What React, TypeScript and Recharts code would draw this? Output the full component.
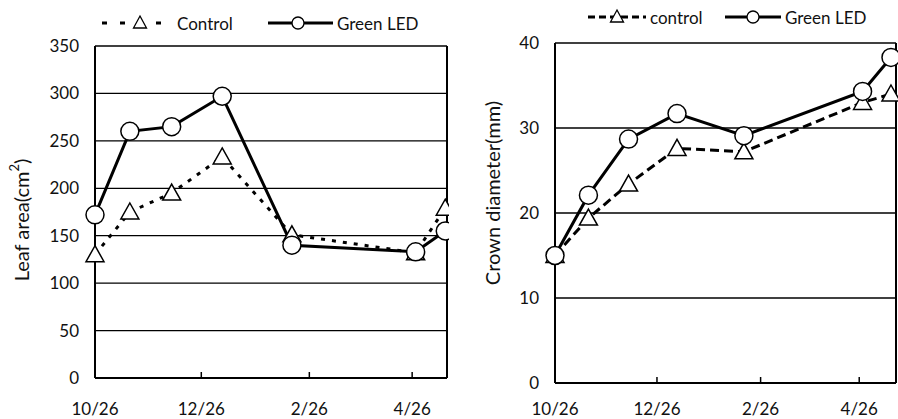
import React from "react";
import { LineChart, Line, XAxis, YAxis, CartesianGrid, ReferenceLine } from "recharts";

// sampling dates, as days after 10/26
const sampleDays = [0, 20, 44, 73, 113, 184, 201];
const dateTicks = [0, 61, 123, 182];
const dateLabels = ["10/26", "12/26", "2/26", "4/26"];

// leaf area (cm2)
const leafLed = [172, 260, 265, 297, 140, 133, 155];
const leafControl = [130, 175, 195, 233, 151, 132, 179];
const leafTicks = [0, 50, 100, 150, 200, 250, 300, 350];

// crown diameter (mm)
const crownLed = [15, 22.1, 28.7, 31.7, 29.1, 34.3, 38.3];
const crownControl = [15, 19.4, 23.4, 27.6, 27.2, 33, 34];
const crownTicks = [0, 10, 20, 30, 40];

const FONT = "Lato, 'Open Sans', sans-serif";
const INK = "#111";

const makeRows = (led: number[], control: number[]) =>
  sampleDays.map((day, i) => ({ day, led: led[i], control: control[i] }));

const triangleDot = (props: any) => {
  const { cx, cy, index } = props;
  if (cx == null || cy == null) return <g key={`t-${index}`} />;
  return (
    <path
      key={`t-${index}`}
      d={`M${cx},${cy - 9} L${cx + 9},${cy + 7} L${cx - 9},${cy + 7} Z`}
      fill="#fff"
      stroke="#000"
      strokeWidth={1.5}
    />
  );
};

const dateFormatter = (v: number) => {
  const i = dateTicks.indexOf(v);
  return i >= 0 ? dateLabels[i] : "";
};

interface PanelProps {
  rows: { day: number; led: number; control: number }[];
  yTicks: number[];
  xMax: number;
  margin: { top: number; right: number; bottom: number; left: number };
  yWidth: number;
  xLabelGap: number;
  title: React.ReactNode;
  titleX: number;
  titleShift: number;
  dash: string;
}

const Panel = ({ rows, yTicks, xMax, margin, yWidth, xLabelGap, title, titleX, titleShift, dash }: PanelProps) => (
  <LineChart width={449} height={419} data={rows} margin={margin}>
    <CartesianGrid vertical={false} stroke="#000" strokeWidth={1.3} />
    <XAxis
      type="number"
      dataKey="day"
      domain={[0, xMax]}
      ticks={dateTicks}
      interval={0}
      tickFormatter={dateFormatter}
      height={30}
      axisLine={{ stroke: "#000", strokeWidth: 2 }}
      tickLine={{ stroke: "#000", strokeWidth: 1.5 }}
      tickSize={-6}
      tickMargin={xLabelGap}
      tick={{ fill: INK, fontSize: 17, fontFamily: FONT }}
    />
    <YAxis
      type="number"
      domain={[0, yTicks[yTicks.length - 1]]}
      ticks={yTicks}
      interval={0}
      width={yWidth}
      axisLine={{ stroke: "#000", strokeWidth: 2 }}
      tickLine={false}
      tickSize={0}
      tickMargin={16}
      tick={{ fill: INK, fontSize: 17, fontFamily: FONT }}
      label={(p: any) => {
        const vb = p.viewBox || { x: 0, y: margin.top, height: 330 };
        const cx = vb.x + titleX;
        const cy = vb.y + vb.height / 2 + titleShift;
        return (
          <text
            x={cx}
            y={cy}
            transform={`rotate(-90 ${cx} ${cy})`}
            textAnchor="middle"
            dominantBaseline="central"
            fill={INK}
            fontSize={20}
            fontFamily={FONT}
          >
            {title}
          </text>
        );
      }}
    />
    <ReferenceLine x={xMax} stroke="#000" strokeWidth={2} />
    <Line
      dataKey="control"
      stroke="#000"
      strokeWidth={3}
      strokeDasharray={dash}
      dot={triangleDot}
      isAnimationActive={false}
    />
    <Line
      dataKey="led"
      stroke="#000"
      strokeWidth={3}
      dot={{ r: 9, fill: "#fff", stroke: "#000", strokeWidth: 1.5 }}
      isAnimationActive={false}
    />
  </LineChart>
);

const LegendRow = ({ y, ctl, led, dash }: { y: number; ctl: [number, number, number, number, string]; led: [number, number, number, number]; dash: string }) => (
  <g fontFamily={FONT} fontSize={17} fill={INK}>
    <line x1={ctl[0]} x2={ctl[1]} y1={y} y2={y} stroke="#000" strokeWidth={3} strokeDasharray={dash} />
    <path
      d={`M${ctl[2]},${y - 7} L${ctl[2] + 6.5},${y + 5} L${ctl[2] - 6.5},${y + 5} Z`}
      fill="#fff"
      stroke="#000"
      strokeWidth={1.3}
    />
    <text x={ctl[3]} y={y} dominantBaseline="central">{ctl[4]}</text>
    <line x1={led[0]} x2={led[1]} y1={y} y2={y} stroke="#000" strokeWidth={3} />
    <circle cx={led[2]} cy={y} r={6} fill="#fff" stroke="#000" strokeWidth={1.3} />
    <text x={led[3]} y={y} dominantBaseline="central">Green LED</text>
  </g>
);

export default function App() {
  return (
    <div style={{ position: "absolute", left: 0, top: 0, width: 898, height: 419, background: "#fff", fontFamily: FONT }}>
      <div style={{ position: "absolute", left: 0, top: 0 }}>
        <Panel
          rows={makeRows(leafLed, leafControl)}
          yTicks={leafTicks}
          xMax={202}
          margin={{ top: 46, right: 2, bottom: 11, left: 0 }}
          yWidth={95}
          xLabelGap={31}
          title={<>Leaf area(cm<tspan dy={-7} fontSize={13}>2</tspan><tspan dy={7}>)</tspan></>}
          titleX={21}
          titleShift={8}
          dash="4 7"
        />
      </div>
      <div style={{ position: "absolute", left: 449, top: 0 }}>
        <Panel
          rows={makeRows(crownLed, crownControl)}
          yTicks={crownTicks}
          xMax={204}
          margin={{ top: 43, right: 2, bottom: 6, left: 0 }}
          yWidth={106}
          xLabelGap={26}
          title="Crown diameter(mm)"
          titleX={43}
          titleShift={-20}
          dash="9 5"
        />
      </div>
      <svg width={898} height={40} style={{ position: "absolute", left: 0, top: 0, pointerEvents: "none" }}>
        <LegendRow y={23} ctl={[102, 172, 140, 177, "Control"]} led={[268, 333, 298, 337]} dash="5 13" />
        <LegendRow y={17} ctl={[588, 646, 617, 650, "control"]} led={[725, 781, 753, 785]} dash="7 4" />
      </svg>
    </div>
  );
}
